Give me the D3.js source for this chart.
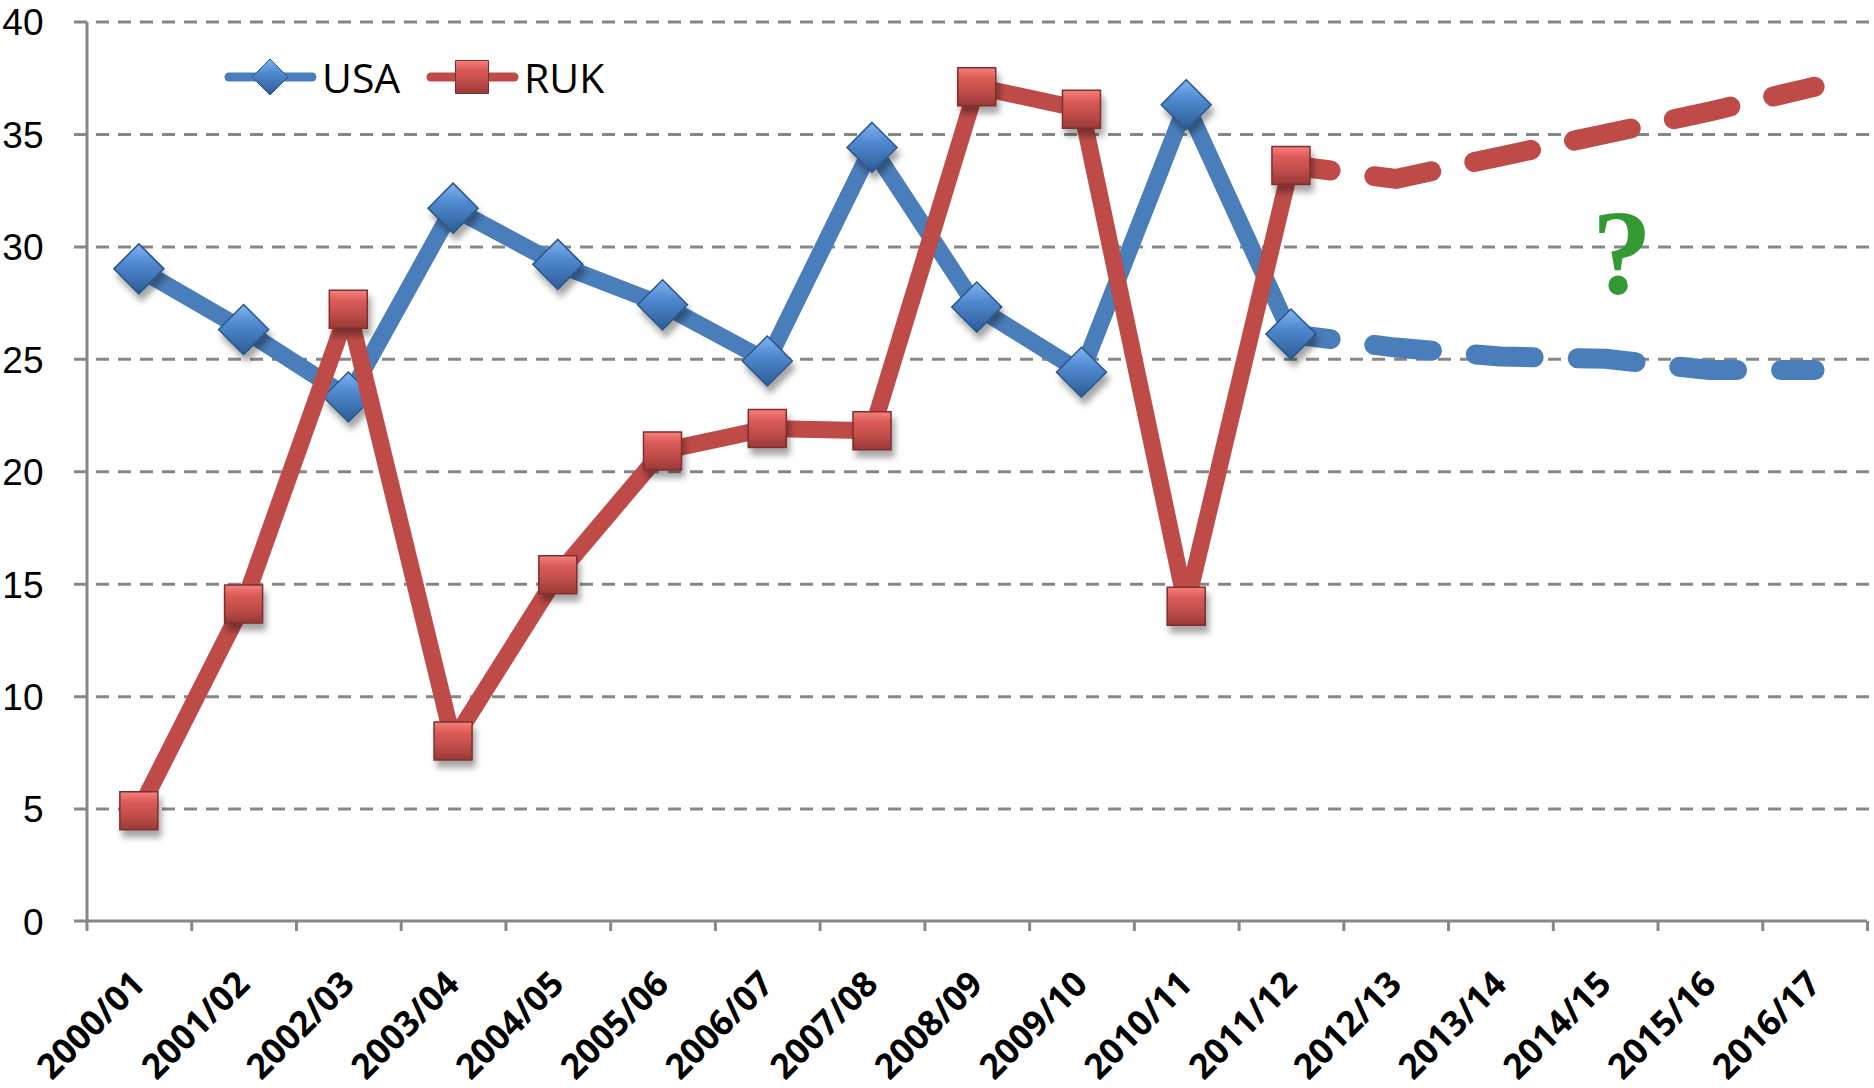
<!DOCTYPE html>
<html>
<head>
<meta charset="utf-8">
<script src="https://cdn.jsdelivr.net/npm/d3@7"></script>
<style>
  body { margin: 0; background: #fff; }
</style>
</head>
<body>
<div id="chart"></div>
<script>
// categories on the x axis
const categories = ["2000/01", "2001/02", "2002/03", "2003/04", "2004/05", "2005/06",
    "2006/07", "2007/08", "2008/09", "2009/10", "2010/11", "2011/12",
    "2012/13", "2013/14", "2014/15", "2015/16", "2016/17"];

// observed values 2000/01 .. 2011/12
const usaValues = [29.0, 26.3, 23.3, 31.7, 29.2, 27.4, 24.9, 34.4, 27.3, 24.4, 36.3, 26.1];
const rukValues = [4.9, 14.1, 27.2, 8.0, 15.4, 20.9, 21.9, 21.8, 37.1, 36.1, 14.0, 33.6];

// dashed projection 2011/12 .. 2016/17
const usaForecast = [26.1, 25.5, 25.1, 25.0, 24.5, 24.5];
const rukForecast = [33.6, 33.0, 34.0, 35.0, 36.0, 37.1];

const yTicks = [0, 5, 10, 15, 20, 25, 30, 35, 40];
const seriesNames = ["USA", "RUK"];

const width = 1874, height = 1088;
const margin = {top: 21.5, right: 7, bottom: 167, left: 86.5};
const plotRight = width - margin.right;
const plotBottom = height - margin.bottom;

const blue = "#4a7ebb";
const red = "#be4b48";
const gridGrey = "#878787";

const svg = d3.select("#chart").append("svg")
    .attr("width", width)
    .attr("height", height)
    .style("font-family", "'Open Sans', sans-serif");

// scales
const x = d3.scaleBand().domain(categories).range([margin.left, plotRight]);
const cx = c => x(c) + x.bandwidth() / 2;
const xEdge = d3.scaleLinear().domain([0, categories.length]).range([margin.left, plotRight]);
const y = d3.scaleLinear().domain([0, 40]).range([plotBottom, margin.top]);

// defs: gradients and marker shadow
const defs = svg.append("defs");
const shadow = defs.append("filter").attr("id", "shadow")
    .attr("x", "-50%").attr("y", "-50%").attr("width", "200%").attr("height", "200%");
shadow.append("feDropShadow")
    .attr("dx", 3).attr("dy", 7).attr("stdDeviation", 3)
    .attr("flood-color", "#000").attr("flood-opacity", 0.35);

function gradient(id, stops) {
    const g = defs.append("linearGradient").attr("id", id)
        .attr("x1", 0).attr("y1", 0).attr("x2", 0).attr("y2", 1);
    stops.forEach(s => g.append("stop").attr("offset", s[0]).attr("stop-color", s[1]));
}
gradient("gradRed", [["0%", "#f5817d"], ["28%", "#dc5a56"], ["60%", "#c24f4c"], ["100%", "#9a3936"]]);
gradient("gradBlue", [["0%", "#80b4f2"], ["40%", "#4f88cf"], ["100%", "#2d5c96"]]);

// gridlines
const grid = svg.append("g")
    .attr("transform", `translate(74,0)`)
    .call(d3.axisRight(y).tickValues(yTicks.filter(d => d > 0)).tickSize(width - 74).tickFormat(""));
grid.select(".domain").remove();
grid.selectAll("line")
    .attr("stroke", gridGrey)
    .attr("stroke-width", 3)
    .attr("stroke-dasharray", "13 9");

// y axis
const yAxis = svg.append("g")
    .attr("transform", `translate(${margin.left},0)`)
    .call(d3.axisLeft(y).tickValues(yTicks).tickSize(0).tickSizeOuter(0).tickPadding(43));
yAxis.select(".domain").attr("stroke", gridGrey).attr("stroke-width", 3);
yAxis.selectAll("text")
    .attr("font-family", "'Liberation Sans', Arial, sans-serif")
    .attr("font-size", 37)
    .attr("fill", "#000")
    .attr("dy", "0.36em");

// x axis
const xAxis = svg.append("g")
    .attr("transform", `translate(0,${plotBottom})`)
    .call(d3.axisBottom(xEdge).tickValues(d3.range(categories.length + 1))
        .tickSize(10).tickSizeOuter(0).tickFormat(""));
xAxis.select(".domain").remove();
xAxis.selectAll("line").attr("stroke", gridGrey).attr("stroke-width", 3);
xAxis.append("line")
    .attr("x1", 74).attr("x2", plotRight)
    .attr("y1", 0).attr("y2", 0)
    .attr("stroke", gridGrey).attr("stroke-width", 3);

svg.append("g").selectAll("text")
    .data(categories)
    .join("text")
    .attr("transform", d => `translate(${cx(d) + 8},${986}) rotate(-45)`)
    .attr("text-anchor", "end")
    .attr("font-size", 35)
    .attr("font-weight", "bold")
    .attr("fill", "#000")
    .text(d => d);

// series
const line = d3.line().x(d => cx(d.cat)).y(d => y(d.v));
const observed = vals => vals.map((v, i) => ({cat: categories[i], v}));
const projected = vals => vals.map((v, i) => ({cat: categories[11 + i], v}));

function diamondPath(r) {
    return `M0,${-r}L${r},0L0,${r}L${-r},0Z`;
}
function squarePath(s) {
    const h = s / 2;
    return `M${-h},${-h}H${h}V${h}H${-h}Z`;
}

function drawSeries(vals, forecast, color, markerPath, fill, strokeCol) {
    svg.append("path")
        .datum(observed(vals))
        .attr("d", line)
        .attr("fill", "none")
        .attr("stroke", color)
        .attr("stroke-width", 17)
        .attr("stroke-linejoin", "round");

    svg.append("path")
        .datum(projected(forecast))
        .attr("d", line)
        .attr("fill", "none")
        .attr("stroke", color)
        .attr("stroke-width", 20)
        .attr("stroke-linecap", "round")
        .attr("stroke-linejoin", "round")
        .attr("stroke-dasharray", "58 44")
        .attr("stroke-dashoffset", 18);

    svg.append("g").selectAll("path")
        .data(observed(vals))
        .join("path")
        .attr("transform", d => `translate(${cx(d.cat)},${y(d.v)})`)
        .attr("d", markerPath)
        .attr("fill", fill)
        .attr("stroke", strokeCol)
        .attr("stroke-width", 1.5)
        .attr("filter", "url(#shadow)");
}

drawSeries(usaValues, usaForecast, blue, diamondPath(25), "url(#gradBlue)", "#2b5587");
drawSeries(rukValues, rukForecast, red, squarePath(38), "url(#gradRed)", "#7d2f2d");

// legend
const legend = svg.append("g");
const legendItems = [
    {name: seriesNames[0], x0: 229, color: blue, path: diamondPath(18), fill: "url(#gradBlue)", stroke: "#2b5587"},
    {name: seriesNames[1], x0: 431, color: red, path: squarePath(33), fill: "url(#gradRed)", stroke: "#7d2f2d"}
];
legendItems.forEach(item => {
    legend.append("line")
        .attr("x1", item.x0).attr("x2", item.x0 + 83)
        .attr("y1", 77).attr("y2", 77)
        .attr("stroke", item.color)
        .attr("stroke-width", 9)
        .attr("stroke-linecap", "round");
    legend.append("path")
        .attr("transform", `translate(${item.x0 + 41},77)`)
        .attr("d", item.path)
        .attr("fill", item.fill)
        .attr("stroke", item.stroke)
        .attr("stroke-width", 1);
    legend.append("text")
        .attr("x", item.x0 + 93)
        .attr("y", 93)
        .attr("font-size", 41)
        .attr("fill", "#000")
        .text(item.name);
});

// question mark over the projection
svg.append("text")
    .attr("x", 1622)
    .attr("y", 293)
    .attr("text-anchor", "middle")
    .attr("font-family", "'Liberation Serif', serif")
    .attr("font-weight", "bold")
    .attr("font-size", 120)
    .attr("fill", "#339933")
    .text("?");
</script>
</body>
</html>
